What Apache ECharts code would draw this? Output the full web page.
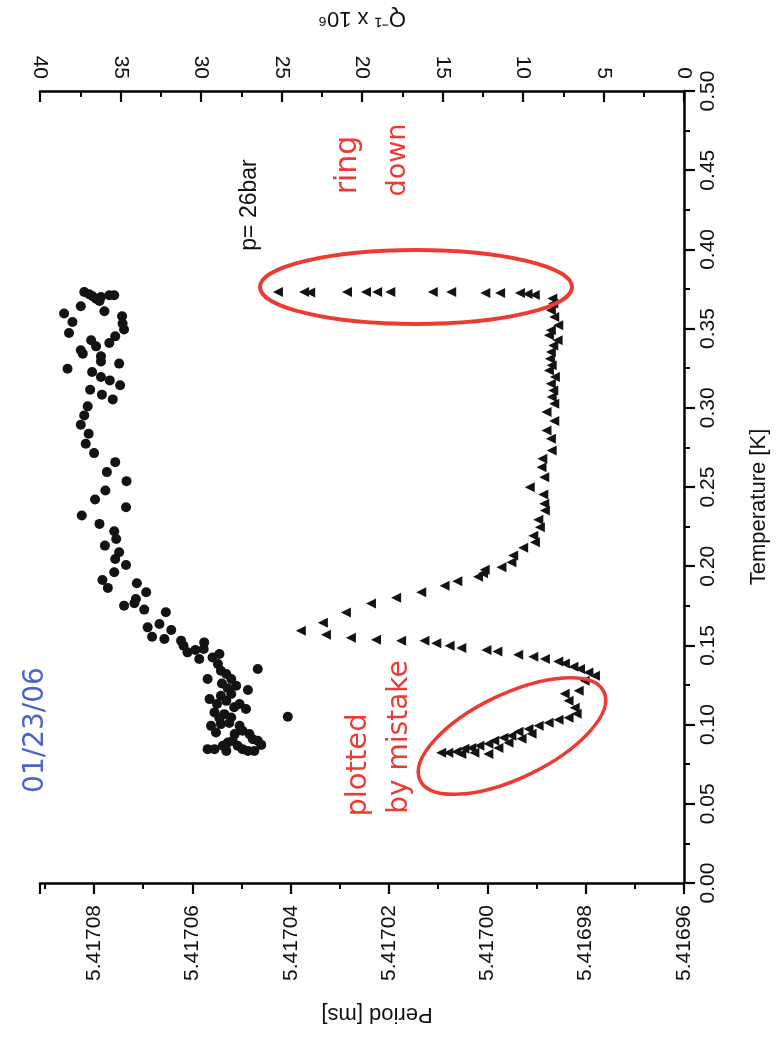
<!DOCTYPE html>
<html>
<head>
<meta charset="utf-8">
<script src="https://cdn.jsdelivr.net/npm/echarts@6/dist/echarts.min.js"></script>
<style>
html,body{margin:0;padding:0;background:#fff;}
#chart{width:783px;height:1050px;}
</style>
</head>
<body>
<div id="chart"></div>
<script>
// Period [ms] vs Temperature [K] (filled circles)
const circleTemp = [0.3731,0.3717,0.3704,0.3689,0.3675,0.3700,0.3711,0.3711,0.3641,0.3609,0.3595,0.3542,0.3472,0.3578,0.3532,0.3494,0.3451,0.3409,0.3426,0.3388,0.3363,0.3342,0.3325,0.3293,0.3247,0.3279,0.3226,0.3194,0.3173,0.3142,0.3114,0.3083,0.3053,0.3009,0.2952,0.2893,0.2836,0.2773,0.2714,0.2657,0.2594,0.2537,0.2478,0.2421,0.2372,0.2320,0.2267,0.2221,0.2172,0.2130,0.2088,0.2046,0.2008,0.1962,0.1913,0.1863,0.1892,0.1835,0.1793,0.1766,0.1751,0.1726,0.1709,0.1614,0.1635,0.1597,0.1555,0.1540,0.1530,0.1498,0.1456,0.1471,0.1519,0.1477,0.1414,0.1424,0.1446,0.1382,0.1340,0.1319,0.1288,0.1245,0.1218,0.1288,0.1161,0.1182,0.1150,0.1193,0.1130,0.1098,0.1077,0.1066,0.1045,0.1003,0.0992,0.0950,0.0992,0.0961,0.0940,0.0908,0.0898,0.0872,0.0845,0.0845,0.0866,0.0887,0.0898,0.0866,0.0845,0.0834,0.0834,0.0834,0.0940,0.1351,0.1049,0.1260,0.1230,0.1130,0.1110,0.1040,0.1010];
const circlePeriod = [5.4170820,5.4170810,5.4170803,5.4170796,5.4170789,5.4170786,5.4170769,5.4170759,5.4170827,5.4170779,5.4170861,5.4170844,5.4170851,5.4170743,5.4170742,5.4170739,5.4170757,5.4170769,5.4170806,5.4170796,5.4170827,5.4170823,5.4170786,5.4170786,5.4170854,5.4170749,5.4170804,5.4170786,5.4170768,5.4170747,5.4170808,5.4170784,5.4170762,5.4170813,5.4170820,5.4170827,5.4170811,5.4170817,5.4170800,5.4170757,5.4170774,5.4170734,5.4170777,5.4170798,5.4170735,5.4170825,5.4170789,5.4170759,5.4170755,5.4170778,5.4170749,5.4170757,5.4170735,5.4170759,5.4170783,5.4170772,5.4170713,5.4170694,5.4170715,5.4170718,5.4170739,5.4170698,5.4170654,5.4170691,5.4170667,5.4170643,5.4170682,5.4170657,5.4170623,5.4170618,5.4170610,5.4170594,5.4170576,5.4170577,5.4170586,5.4170559,5.4170545,5.4170548,5.4170542,5.4170531,5.4170521,5.4170511,5.4170487,5.4170569,5.4170565,5.4170542,5.4170531,5.4170521,5.4170504,5.4170491,5.4170555,5.4170535,5.4170521,5.4170542,5.4170562,5.4170552,5.4170504,5.4170498,5.4170484,5.4170477,5.4170467,5.4170460,5.4170569,5.4170555,5.4170538,5.4170528,5.4170518,5.4170508,5.4170498,5.4170487,5.4170474,5.4170531,5.4170514,5.4170467,5.4170406,5.4170540,5.4170528,5.4170550,5.4170515,5.4170545,5.4170525];

// Q^-1 x 10^6 vs Temperature [K] (triangles)
const triTemp = [
  0.3731,0.3731,0.3728,0.3731,0.3731,0.3731,0.3731,0.3731,0.3731,0.3725,0.3725,0.3725,0.3718,0.3712,
  0.3690,0.3658,0.3616,0.3573,0.3521,0.3489,0.3458,0.3426,0.3394,0.3352,0.3310,0.3268,0.3236,0.3194,0.3152,0.3110,0.3068,0.3026,0.2973,0.2916,0.2857,0.2804,0.2731,0.2678,0.2625,0.2562,0.2499,0.2453,0.2394,0.2351,0.2293,0.2246,0.2193,0.2151,0.2116,0.2067,0.2025,0.1993,0.1978,
  0.1955,0.1934,0.1905,0.1877,0.1835,0.1801,0.1764,0.1707,0.1643,0.1593,
  0.1568,0.1549,0.1536,0.1530,0.1530,0.1513,0.1498,0.1484,0.1471,0.1462,0.1441,0.1429,0.1414,0.1399,0.1386,0.1365,0.1351,0.1329,0.1308,
  0.1277,0.1214,0.1195,0.1150,0.1106,0.1068,0.1043,0.1030,0.1011,0.0992,0.0973,0.0955,0.0929,0.0917,0.0898,0.0879,0.0866,0.0853,0.0847,0.0828,0.0822,0.0822,0.0885,0.0853,0.0815,0.0822,0.0815,0.0942,0.0910
];
const triQ = [
  25.22,23.60,23.22,20.93,19.75,19.06,18.24,15.60,14.46,12.34,11.42,10.19,9.72,9.27,
  8.18,8.12,8.27,8.06,7.81,8.27,8.39,7.85,8.12,8.27,8.33,8.22,8.39,8.02,8.27,8.12,8.22,8.06,8.54,8.06,8.54,8.27,8.22,8.80,8.85,8.68,9.58,8.74,8.68,8.64,9.05,8.95,9.36,9.26,9.99,10.61,10.72,11.34,12.38,
  12.48,12.79,14.08,14.87,16.32,17.88,19.44,21.00,22.43,23.80,
  22.24,20.69,19.13,17.57,16.12,15.39,14.56,13.83,12.27,11.59,10.30,9.36,8.64,7.81,7.40,6.87,6.46,5.94,5.53,
  6.17,6.54,7.41,7.17,6.79,6.67,7.17,7.79,8.41,9.03,9.66,10.28,10.72,11.21,11.78,12.15,12.71,13.21,13.64,14.14,14.64,15.08,10.90,11.53,12.15,13.02,13.83,9.47,10.09
];

// Axis ticks
const periodTicks = ['5.41696','5.41698','5.41700','5.41702','5.41704','5.41706','5.41708'];
const tempTicks = ['0.00','0.05','0.10','0.15','0.20','0.25','0.30','0.35','0.40','0.45','0.50'];
const qTicks = ['0','5','10','15','20','25','30','35','40'];

const FONT = '"Liberation Sans", Arial, Helvetica, sans-serif';
const periodData = circlePeriod.map((p, i) => [p, circleTemp[i]]);
const qData = triQ.map((q, i) => [q, triTemp[i]]);

const chart = echarts.init(document.getElementById('chart'), null, {renderer: 'canvas'});
const axisLine = {show: true, lineStyle: {color: '#000', width: 2.5}};
const red = '#ec3b33';
const HAND = '"DejaVu Sans", sans-serif';

chart.setOption({
  backgroundColor: '#ffffff',
  animation: false,
  grid: {left: 40, right: 99, top: 91, bottom: 167, containLabel: false},
  xAxis: [
    {
      type: 'value', position: 'bottom', inverse: true,
      min: Number(periodTicks[0]), max: 5.417091, interval: 0.00002,
      name: 'Period [ms]', nameLocation: 'middle', nameGap: 120, nameRotate: 180,
      nameTextStyle: {fontFamily: FONT, fontSize: 22, color: '#111', padding: [0, 30, 0, 0]},
      axisLine: axisLine,
      axisTick: {show: true, inside: false, length: 11, lineStyle: {color: '#000', width: 2.2}},
      minorTick: {show: true, splitNumber: 2, length: 6, lineStyle: {color: '#000', width: 2}},
      splitLine: {show: false},
      axisLabel: {
        rotate: 90, margin: 22, fontFamily: FONT, fontSize: 21, color: '#111',
        showMaxLabel: false,
        formatter: v => { const s = v.toFixed(5); return periodTicks.includes(s) ? s : ''; }
      }
    },
    {
      type: 'value', position: 'top', inverse: true,
      min: 0, max: 40, interval: 5,
      name: 'Q\u207B\u00B9 x 10\u2076', nameLocation: 'middle', nameGap: 62, nameRotate: 180,
      nameTextStyle: {fontFamily: FONT, fontSize: 22, color: '#111'},
      axisLine: axisLine,
      axisTick: {show: true, inside: true, length: 11, lineStyle: {color: '#000', width: 2.2}},
      minorTick: {show: true, splitNumber: 2, length: 6, lineStyle: {color: '#000', width: 2}},
      splitLine: {show: false},
      axisLabel: {
        rotate: 90, margin: 12, fontFamily: FONT, fontSize: 21, color: '#111',
        formatter: v => { const s = String(Math.round(v)); return qTicks.includes(s) ? s : ''; }
      }
    }
  ],
  yAxis: [
    {
      type: 'value', position: 'right',
      min: 0, max: 0.5, interval: 0.05,
      name: 'Temperature [K]', nameLocation: 'middle', nameGap: 64, nameRotate: 90,
      nameTextStyle: {fontFamily: FONT, fontSize: 22, color: '#111', padding: [0, 40, 0, 0]},
      axisLine: axisLine,
      axisTick: {show: true, inside: false, length: 11, lineStyle: {color: '#000', width: 2.2}},
      minorTick: {show: true, splitNumber: 2, length: 6, lineStyle: {color: '#000', width: 2}},
      splitLine: {show: false},
      axisLabel: {
        rotate: 90, margin: 14, fontFamily: FONT, fontSize: 21, color: '#111',
        formatter: v => { const s = v.toFixed(2); return tempTicks.includes(s) ? s : ''; }
      }
    }
  ],
  series: [
    {
      name: 'Period', type: 'scatter', xAxisIndex: 0, yAxisIndex: 0,
      data: periodData, symbol: 'circle', symbolSize: 10,
      itemStyle: {color: '#141214', opacity: 1}, z: 3
    },
    {
      name: 'Q-1', type: 'scatter', xAxisIndex: 1, yAxisIndex: 0,
      data: qData, symbol: 'triangle', symbolSize: 10, symbolRotate: 90,
      itemStyle: {color: '#141214', opacity: 1}, z: 3
    }
  ],
  graphic: [
    {type: 'ellipse', shape: {cx: 416, cy: 287, rx: 156, ry: 37},
     style: {fill: 'none', stroke: red, lineWidth: 4}, z: 10},
    {type: 'ellipse', x: 512, y: 736, rotation: 0.45, shape: {cx: 0, cy: 0, rx: 102, ry: 42},
     style: {fill: 'none', stroke: red, lineWidth: 3.5}, z: 10},
    {type: 'text', x: 250, y: 205, rotation: Math.PI / 2,
     style: {text: 'p= 26bar', fill: '#111', font: '23px ' + FONT, align: 'center', verticalAlign: 'middle'}, z: 10},
    {type: 'text', x: 348, y: 165, rotation: Math.PI / 2,
     style: {text: 'ring', fill: red, font: '30px ' + HAND, align: 'center', verticalAlign: 'middle'}, z: 10},
    {type: 'text', x: 398, y: 160, rotation: Math.PI / 2,
     style: {text: 'down', fill: red, font: '27px ' + HAND, align: 'center', verticalAlign: 'middle'}, z: 10},
    {type: 'text', x: 358, y: 765, rotation: Math.PI / 2,
     style: {text: 'plotted', fill: red, font: '29px ' + HAND, align: 'center', verticalAlign: 'middle'}, z: 10},
    {type: 'text', x: 400, y: 737, rotation: Math.PI / 2,
     style: {text: 'by mistake', fill: red, font: '28px ' + HAND, align: 'center', verticalAlign: 'middle'}, z: 10},
    {type: 'text', x: 36, y: 730, rotation: Math.PI / 2,
     style: {text: '01/23/06', fill: '#4a64c8', font: '28px ' + HAND, align: 'center', verticalAlign: 'middle'}, z: 10}
  ]
});
</script>
</body>
</html>
